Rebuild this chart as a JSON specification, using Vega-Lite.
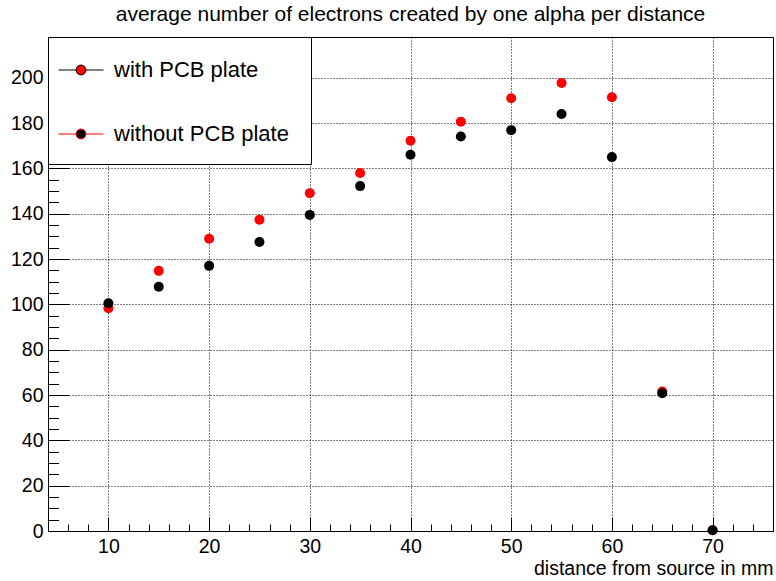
{
  "$schema": "https://vega.github.io/schema/vega-lite/v6.json",
  "width": 725,
  "height": 494,
  "autosize": {"type": "none"},
  "padding": {"left": 48, "top": 37, "right": 3, "bottom": 50},
  "background": "white",
  "config": {
    "view": {"stroke": "black", "strokeWidth": 1},
    "font": "Liberation Sans",
    "axis": {"labelFont": "Liberation Sans", "titleFont": "Liberation Sans", "labelColor": "black", "titleColor": "black", "domainColor": "black", "tickColor": "black", "gridColor": "black", "gridOpacity": 1, "gridDash": [1, 2], "titleFontWeight": "normal"}
  },
  "title": {"text": "average number of electrons created by one alpha per distance", "fontSize": 21, "fontWeight": "normal", "font": "Liberation Sans", "color": "black", "anchor": "middle", "offset": 12},
  "data": {"values": [
    {"distance": 10, "electrons": 98.3, "series": "with PCB plate"},
    {"distance": 15, "electrons": 114.8, "series": "with PCB plate"},
    {"distance": 20, "electrons": 129.0, "series": "with PCB plate"},
    {"distance": 25, "electrons": 137.4, "series": "with PCB plate"},
    {"distance": 30, "electrons": 149.1, "series": "with PCB plate"},
    {"distance": 35, "electrons": 158.0, "series": "with PCB plate"},
    {"distance": 40, "electrons": 172.2, "series": "with PCB plate"},
    {"distance": 45, "electrons": 180.6, "series": "with PCB plate"},
    {"distance": 50, "electrons": 191.0, "series": "with PCB plate"},
    {"distance": 55, "electrons": 197.7, "series": "with PCB plate"},
    {"distance": 60, "electrons": 191.4, "series": "with PCB plate"},
    {"distance": 65, "electrons": 61.6, "series": "with PCB plate"},
    {"distance": 70, "electrons": 0.3, "series": "with PCB plate"},
    {"distance": 10, "electrons": 100.5, "series": "without PCB plate"},
    {"distance": 15, "electrons": 107.8, "series": "without PCB plate"},
    {"distance": 20, "electrons": 117.0, "series": "without PCB plate"},
    {"distance": 25, "electrons": 127.5, "series": "without PCB plate"},
    {"distance": 30, "electrons": 139.5, "series": "without PCB plate"},
    {"distance": 35, "electrons": 152.2, "series": "without PCB plate"},
    {"distance": 40, "electrons": 166.0, "series": "without PCB plate"},
    {"distance": 45, "electrons": 174.1, "series": "without PCB plate"},
    {"distance": 50, "electrons": 176.9, "series": "without PCB plate"},
    {"distance": 55, "electrons": 184.0, "series": "without PCB plate"},
    {"distance": 60, "electrons": 165.0, "series": "without PCB plate"},
    {"distance": 65, "electrons": 60.8, "series": "without PCB plate"},
    {"distance": 70, "electrons": 0.3, "series": "without PCB plate"}
  ]},
  "layer": [
    {
      "transform": [{"filter": "datum.series === 'with PCB plate'"}],
      "mark": {"type": "point", "shape": "circle", "filled": true, "size": 100, "opacity": 1},
      "encoding": {
        "x": {"field": "distance", "type": "quantitative",
          "scale": {"domain": [4, 76], "nice": false, "zero": false},
          "axis": {"orient": "bottom", "values": [10, 20, 30, 40, 50, 60, 70], "grid": true, "tickSize": -14, "labelFontSize": 19.5, "labelPadding": 20, "title": "distance from source in mm", "titleFontSize": 19.5, "titleAlign": "right", "titleBaseline": "alphabetic", "titleX": 725, "titleY": 43}},
        "y": {"field": "electrons", "type": "quantitative",
          "scale": {"domain": [0, 218], "nice": false, "zero": true},
          "axis": {"orient": "left", "values": [0, 20, 40, 60, 80, 100, 120, 140, 160, 180, 200], "grid": true, "tickSize": -21, "labelFontSize": 19.5, "labelPadding": 26, "title": null}},
        "color": {"field": "series", "type": "nominal",
          "scale": {"domain": ["with PCB plate", "without PCB plate"], "range": ["#ff0000", "#000000"]},
          "legend": {"title": null, "orient": "none", "legendX": 0, "legendY": 0, "direction": "vertical",
            "symbolType": "M-1,0L-0.22,0M0.22,0L1,0M-0.22,0A0.22,0.22,0,1,0,0.22,0A0.22,0.22,0,1,0,-0.22,0ZM0,-1M0,0.8M9.65,0",
            "symbolSize": 2025, "symbolStrokeWidth": 1, "symbolOpacity": 1,
            "labelFontSize": 22, "labelFont": "Liberation Sans", "labelColor": "black", "labelLimit": 400, "labelOffset": 10,
            "rowPadding": 19, "padding": 10, "strokeColor": "black", "fillColor": "white",
            "encode": {"symbols": {"update": {"stroke": {"signal": "datum.value === 'with PCB plate' ? 'black' : '#ff0000'"}, "strokeWidth": {"value": 1}, "opacity": {"value": 1}}}}}}
      }
    },
    {
      "transform": [{"filter": "datum.series === 'without PCB plate'"}],
      "mark": {"type": "point", "shape": "circle", "filled": true, "size": 100, "opacity": 1},
      "encoding": {
        "x": {"field": "distance", "type": "quantitative",
          "axis": {"orient": "bottom", "values": [4, 6, 8, 12, 14, 16, 18, 22, 24, 26, 28, 32, 34, 36, 38, 42, 44, 46, 48, 52, 54, 56, 58, 62, 64, 66, 68, 72, 74, 76], "grid": false, "domain": false, "labels": false, "tickSize": -7, "title": null}},
        "y": {"field": "electrons", "type": "quantitative",
          "axis": {"orient": "left", "values": [5, 10, 15, 25, 30, 35, 45, 50, 55, 65, 70, 75, 85, 90, 95, 105, 110, 115, 125, 130, 135, 145, 150, 155, 165, 170, 175, 185, 190, 195, 205, 210, 215], "grid": false, "domain": false, "labels": false, "tickSize": -10.5, "title": null}},
        "color": {"field": "series", "type": "nominal"}
      }
    }
  ],
  "resolve": {"axis": {"x": "independent", "y": "independent"}}
}
